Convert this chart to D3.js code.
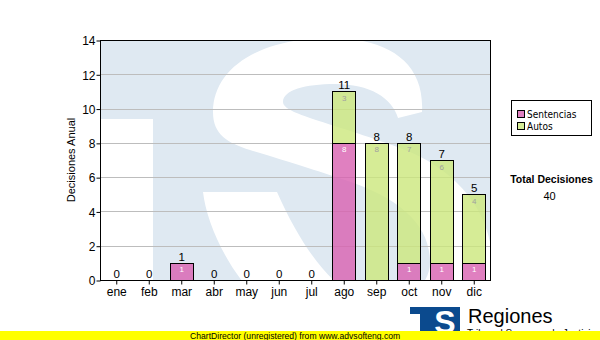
<!DOCTYPE html>
<html><head><meta charset="utf-8">
<script src="https://cdn.jsdelivr.net/npm/d3@7"></script>
<style>body{margin:0;background:#fff} svg{display:block}</style>
</head><body>
<svg id="c" width="600" height="340"></svg>
<script>
// ---- data ----
const months = ["ene","feb","mar","abr","may","jun","jul","ago","sep","oct","nov","dic"];
const sentencias = [0,0,1,0,0,0,0,8,0,1,1,1];
const autos      = [0,0,0,0,0,0,0,3,8,7,6,4];
const yTicks = [0,2,4,6,8,10,12,14];
const seriesNames = ["Sentencias","Autos"];
const yTitle = "Decisiones Anual";
const totalTitle = "Total Decisiones";
const totalValue = 40;

// ---- layout ----
const svg = d3.select("#c");
const L = 100, R = 490, T = 40, B = 280;
const FONT = "'Liberation Sans', Arial, sans-serif";
const colors = {Sentencias: "rgb(216,96,176)", Autos: "rgb(204,231,124)"};
const inColors = {Sentencias: "#ffffff", Autos: "#a0a0a0"};

const x = d3.scaleBand().domain(months).range([L, R]).paddingInner(0.3).paddingOuter(0.15);
const y = d3.scaleLinear().domain([0, 14]).range([B, T]);

const rows = months.map((m, i) => ({month: m, Sentencias: sentencias[i], Autos: autos[i]}));
const stacked = d3.stack().keys(seriesNames)(rows);

// plot background
svg.append("rect").attr("x", L).attr("y", T).attr("width", R - L).attr("height", B - T).attr("fill", "#fff");

// watermark (background image of original)
const defs = svg.append("defs");
defs.append("clipPath").attr("id", "pc").append("rect")
  .attr("x", L).attr("y", T).attr("width", R - L).attr("height", B - T);
const wm = svg.append("g").attr("clip-path", "url(#pc)");
wm.append("rect").attr("x", L).attr("y", T).attr("width", R - L).attr("height", B - T).attr("fill", "#dfe9f2");
wm.append("rect").attr("x", L).attr("y", 119).attr("width", 53).attr("height", B - 119).attr("fill", "#fff");
wm.append("path").attr("fill", "#fff").attr("d",
  "M422 112 C425 60 385 38 330 38 C260 38 213 68 213 112 C213 135 228 143 250 150 " +
  "C290 162 315 170 345 180 C400 198 430 225 430 262 C430 290 400 305 370 305 " +
  "C335 290 305 255 277 192 L203 192 C210 250 270 350 370 350 C455 350 492 310 492 262 " +
  "C492 220 465 172 400 148 C330 122 283 114 283 102 C283 90 305 84 335 84 " +
  "C370 84 392 98 398 118 Z");

// gridlines
svg.append("g").selectAll("line").data(yTicks.filter(v => v > 0 && v < 14)).join("line")
  .attr("x1", L).attr("x2", R)
  .attr("y1", d => Math.round(y(d)) + 0.5).attr("y2", d => Math.round(y(d)) + 0.5)
  .attr("stroke", "#bdbdbd").attr("stroke-width", 1);

// bars
const gBars = svg.append("g");
stacked.forEach(layer => {
  const key = layer.key;
  gBars.selectAll(null).data(layer.filter(d => d[1] - d[0] > 0)).join("rect")
    .attr("x", d => Math.round(x(d.data.month)) + 0.5)
    .attr("y", d => Math.round(y(d[1])) + 0.5)
    .attr("width", Math.round(x.bandwidth()))
    .attr("height", d => Math.round(y(d[0])) - Math.round(y(d[1])))
    .attr("fill", colors[key]).attr("fill-opacity", 0.8)
    .attr("stroke", "#000").attr("stroke-width", 1);
  gBars.selectAll(null).data(layer.filter(d => d[1] - d[0] > 0)).join("text")
    .attr("x", d => x(d.data.month) + x.bandwidth() / 2 + 0.5)
    .attr("y", d => y(d[1]) + 9.5)
    .attr("text-anchor", "middle").attr("font-family", FONT).attr("font-size", 8)
    .attr("fill", inColors[key])
    .text(d => d[1] - d[0]);
});

// totals
svg.append("g").selectAll("text").data(rows).join("text")
  .attr("x", d => x(d.month) + x.bandwidth() / 2 + 0.5)
  .attr("y", d => y(d.Sentencias + d.Autos) - 2)
  .attr("text-anchor", "middle").attr("font-family", FONT).attr("font-size", 11.5)
  .attr("fill", "#000")
  .text(d => d.Sentencias + d.Autos);

// frame
svg.append("rect").attr("x", L + 0.5).attr("y", T + 0.5).attr("width", R - L).attr("height", B - T)
  .attr("fill", "none").attr("stroke", "#000").attr("stroke-width", 1);

// axes
const ya = svg.append("g").attr("transform", `translate(${L + 0.5},0.5)`)
  .call(d3.axisLeft(y).tickValues(yTicks).tickSize(4).tickSizeOuter(0).tickPadding(1));
const xa = svg.append("g").attr("transform", `translate(0.5,${B + 0.5})`)
  .call(d3.axisBottom(x).tickSize(4).tickSizeOuter(0).tickPadding(3));
[ya, xa].forEach(a => {
  a.select(".domain").remove();
  a.selectAll("line").attr("stroke", "#000");
  a.selectAll("text").attr("font-family", FONT).attr("font-size", 12).attr("fill", "#000");
});
ya.selectAll("text").attr("dy", "0.36em");

// y title
svg.append("text").attr("transform", "translate(75,160) rotate(-90)")
  .attr("text-anchor", "middle").attr("font-family", FONT).attr("font-size", 11)
  .text(yTitle);

// legend
const LF = "'DejaVu Sans Condensed', 'Liberation Sans', sans-serif";
svg.append("rect").attr("x", 511.5).attr("y", 100.5).attr("width", 80).attr("height", 35)
  .attr("fill", "#fff").attr("stroke", "#000");
seriesNames.forEach((s, i) => {
  svg.append("rect").attr("x", 517.5).attr("y", 110.5 + i * 12).attr("width", 7).attr("height", 7)
    .attr("fill", colors[s]).attr("fill-opacity", 0.8).attr("stroke", "#000");
  svg.append("text").attr("x", 527).attr("y", 117.5 + i * 12)
    .attr("font-family", LF).attr("font-size", 10).text(s);
});

// total box
svg.append("text").attr("x", 551.5).attr("y", 183).attr("text-anchor", "middle")
  .attr("font-family", FONT).attr("font-weight", "bold").attr("font-size", 10.5).text(totalTitle);
svg.append("text").attr("x", 549.5).attr("y", 200).attr("text-anchor", "middle")
  .attr("font-family", FONT).attr("font-size", 11).text(totalValue);

// logo
const lg = svg.append("g");
lg.append("rect").attr("x", 410).attr("y", 307).attr("width", 50).attr("height", 26).attr("fill", "#0b4a8e");
lg.append("rect").attr("x", 410).attr("y", 314).attr("width", 10).attr("height", 20).attr("fill", "#fff");
lg.append("text").attr("x", 445).attr("y", 333).attr("text-anchor", "middle")
  .attr("font-family", FONT).attr("font-weight", "bold").attr("font-size", 32).attr("fill", "#fff").text("S");
lg.append("text").attr("x", 468).attr("y", 323).attr("font-family", FONT).attr("font-size", 20).text("Regiones");
lg.append("text").attr("x", 467).attr("y", 337.2).attr("font-family", FONT).attr("font-size", 10).text("Tribunal Supremo de Justicia");

// footer
svg.append("rect").attr("x", 0).attr("y", 331).attr("width", 600).attr("height", 9).attr("fill", "#ffff00");
svg.append("text").attr("x", 190).attr("y", 338.5).attr("font-family", FONT).attr("font-size", 8.6)
  .text("ChartDirector (unregistered) from www.advsofteng.com");
</script>
</body></html>
